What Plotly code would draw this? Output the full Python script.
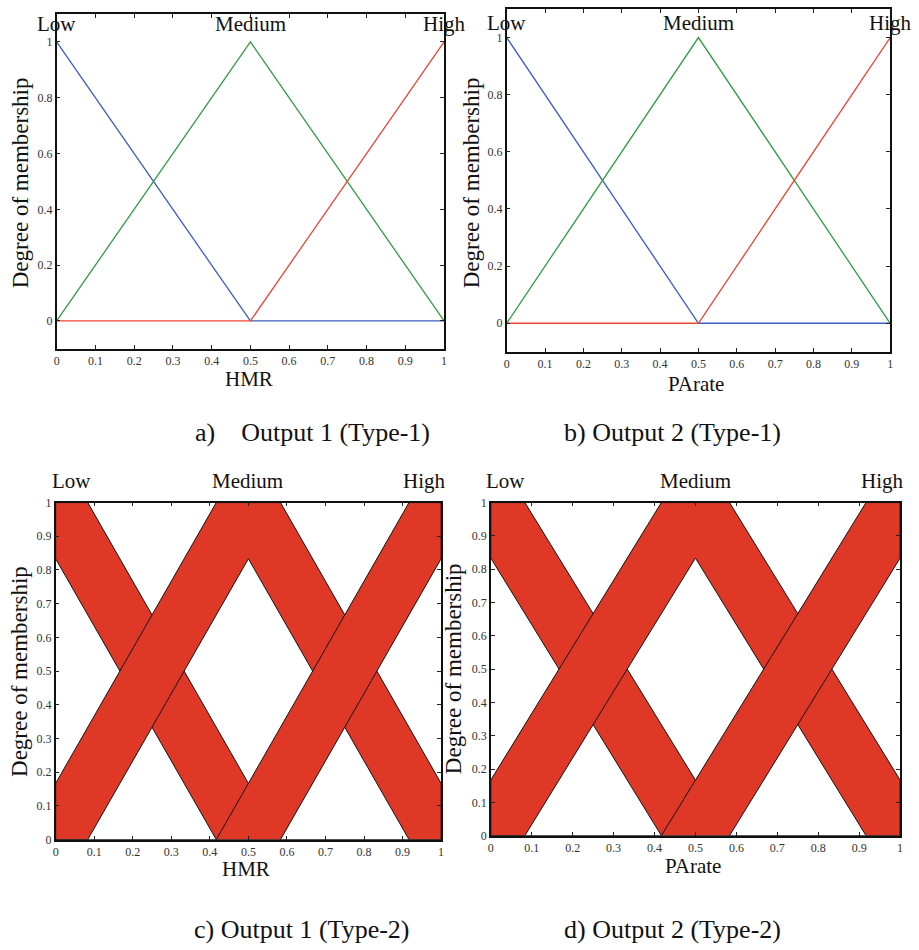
import plotly.graph_objects as go

W, H = 919, 950
FONT = "Liberation Serif"

# ---------------- data ----------------
t1_x = [0, 0.5, 1]
t1_low = [1, 0, 0]
t1_medium = [0, 1, 0]
t1_high = [0, 0, 1]

# interval type-2 MFs: upper / lower membership functions
low_upper_x = [0, 0.0833, 0.5833, 1]
low_upper_y = [1, 1, 0, 0]
low_lower_x = [0, 0.4167, 1]
low_lower_y = [0.8333, 0, 0]

med_upper_x = [0, 0.4167, 0.5833, 1]
med_upper_y = [0.1667, 1, 1, 0.1667]
med_lower_x = [0, 0.0833, 0.5, 0.9167, 1]
med_lower_y = [0, 0, 0.8333, 0, 0]

high_upper_x = [0, 0.4167, 0.9167, 1]
high_upper_y = [0, 0, 1, 1]
high_lower_x = [0, 0.5833, 1]
high_lower_y = [0, 0, 0.8333]

x_ticks = [0, 0.1, 0.2, 0.3, 0.4, 0.5, 0.6, 0.7, 0.8, 0.9, 1]
x_ticktext = ["0", "0.1", "0.2", "0.3", "0.4", "0.5", "0.6", "0.7", "0.8", "0.9", "1"]
y1_ticks = [0, 0.2, 0.4, 0.6, 0.8, 1]
y1_ticktext = ["0", "0.2", "0.4", "0.6", "0.8", "1"]
y2_ticks = x_ticks
y2_ticktext = x_ticktext

set_labels = ["Low", "Medium", "High"]
x_titles = ["HMR", "PArate", "HMR", "PArate"]
y_title = "Degree of membership"
captions = ["a)\u00a0\u00a0\u00a0 Output 1 (Type-1)", "b) Output 2 (Type-1)",
            "c) Output 1 (Type-2)", "d) Output 2 (Type-2)"]

# ---------------- layout helpers ----------------
def px(x):
    return x / W

def py(y):
    return 1 - y / H

# panel boxes in pixels: left, right, top, bottom
boxes = [(54, 444, 7, 347), (507, 893, 2, 350), (53, 441, 503, 845), (491, 903, 503, 841)]

fig = go.Figure()

def band(ux, uy, lx, ly):
    # polygon: upper MF left->right, then lower MF right->left
    xs = list(ux) + list(reversed(lx)) + [ux[0]]
    ys = list(uy) + list(reversed(ly)) + [uy[0]]
    return xs, ys

for i in range(4):
    l, r, t, b = boxes[i]
    xa = "xaxis" if i == 0 else f"xaxis{i+1}"
    ya = "yaxis" if i == 0 else f"yaxis{i+1}"
    xr = "x" if i == 0 else f"x{i+1}"
    yr = "y" if i == 0 else f"y{i+1}"
    type1 = i < 2
    fig.update_layout({
        xa: dict(domain=[px(l), px(r)], anchor=yr, range=[0, 1],
                 tickvals=x_ticks, ticktext=x_ticktext, ticks="inside", ticklen=4,
                 tickcolor="#222", showline=True, linecolor="#111", linewidth=1.5,
                 mirror="ticks", showgrid=False, zeroline=False,
                 tickfont=dict(family=FONT, size=12, color="#333")),
        ya: dict(domain=[py(b), py(t)], anchor=xr,
                 range=[-0.1, 1.1] if type1 else [0, 1],
                 tickvals=y1_ticks if type1 else y2_ticks,
                 ticktext=y1_ticktext if type1 else y2_ticktext,
                 ticks="inside", ticklen=4, tickcolor="#222",
                 showline=True, linecolor="#111", linewidth=1.5, mirror="ticks",
                 showgrid=False, zeroline=False,
                 tickfont=dict(family=FONT, size=12, color="#333")),
    })
    if type1:
        for yv, col in [(t1_low, "#3b5cc4"), (t1_medium, "#2e9e3e"), (t1_high, "#ef4535")]:
            fig.add_trace(go.Scatter(x=t1_x, y=yv, mode="lines", xaxis=xr, yaxis=yr,
                                     line=dict(color=col, width=1.3), showlegend=False,
                                     hoverinfo="skip"))
    else:
        for ux, uy, lx, ly in [(low_upper_x, low_upper_y, low_lower_x, low_lower_y),
                               (med_upper_x, med_upper_y, med_lower_x, med_lower_y),
                               (high_upper_x, high_upper_y, high_lower_x, high_lower_y)]:
            xs, ys = band(ux, uy, lx, ly)
            fig.add_trace(go.Scatter(x=xs, y=ys, mode="lines", fill="toself",
                                     fillcolor="#e03826", xaxis=xr, yaxis=yr,
                                     line=dict(color="#111", width=1), showlegend=False,
                                     hoverinfo="skip"))

annotations = []
# set labels
label_pos = [
    ([0, 0.5, 1], 17),
    ([0, 0.5, 1], 16),
    ([0.04, 0.497, 0.958], 481),
    ([0.036, 0.5, 0.956], 481),
]
for i, (xs, ypix) in enumerate(label_pos):
    xr = "x" if i == 0 else f"x{i+1}"
    for lab, xv in zip(set_labels, xs):
        annotations.append(dict(text=lab, x=xv, xref=xr, y=py(ypix), yref="paper",
                                showarrow=False, xanchor="center", yanchor="middle",
                                font=dict(family=FONT, size=21, color="#111")))
# x titles
xt_pos = [(248, 378), (698, 383), (245, 875), (695, 872)]
for txt, (xp, yp) in zip(x_titles, xt_pos):
    annotations.append(dict(text=txt, x=px(xp), y=py(yp), xref="paper", yref="paper",
                            showarrow=False, xanchor="center", yanchor="middle",
                            font=dict(family=FONT, size=21, color="#111")))
# y titles
yt_pos = [(17, 178), (471, 178), (16, 674), (453, 672)]
for (xp, yp) in yt_pos:
    annotations.append(dict(text=y_title, x=px(xp), y=py(yp), xref="paper", yref="paper",
                            showarrow=False, xanchor="center", yanchor="middle", textangle=-90,
                            font=dict(family=FONT, size=23, color="#111")))
# captions
cap_pos = [(191, 432), (563, 432), (190, 936), (563, 936)]
for txt, (xp, yp) in zip(captions, cap_pos):
    annotations.append(dict(text=txt, x=px(xp), y=py(yp), xref="paper", yref="paper",
                            showarrow=False, xanchor="left", yanchor="middle",
                            font=dict(family=FONT, size=26, color="#111")))

fig.update_layout(width=W, height=H, margin=dict(l=0, r=0, t=0, b=0),
                  paper_bgcolor="white", plot_bgcolor="white",
                  annotations=annotations, showlegend=False)

fig.write_html("out.html", config={"displayModeBar": False},
               post_script="document.body.style.margin='0';document.body.style.padding='0';")
